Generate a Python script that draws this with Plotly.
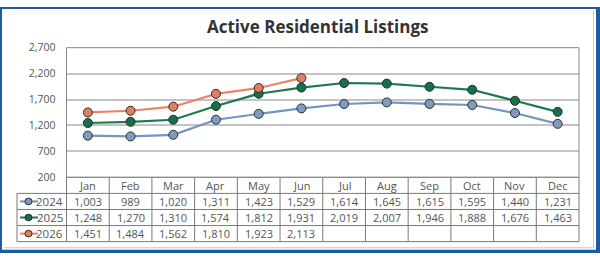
import plotly.graph_objects as go

months = ["Jan", "Feb", "Mar", "Apr", "May", "Jun", "Jul", "Aug", "Sep", "Oct", "Nov", "Dec"]
years = ["2024", "2025", "2026"]
s2024 = [1003, 989, 1020, 1311, 1423, 1529, 1614, 1645, 1615, 1595, 1440, 1231]
s2025 = [1248, 1270, 1310, 1574, 1812, 1931, 2019, 2007, 1946, 1888, 1676, 1463]
s2026 = [1451, 1484, 1562, 1810, 1923, 2113]
series = [s2024, s2025, s2026]
y_ticks = [200, 700, 1200, 1700, 2200, 2700]
title = "Active Residential Listings"

line_colors = ["#7395c2", "#1d7a4d", "#ea8469"]
marker_fills = ["#7f9cc0", "#16704a", "#e27d60"]

W, H = 600, 260
PX0, PX1 = 66.5, 579.0   # plot area left/right (px)
PY0, PY1 = 43.0, 180.0   # plot area top/bottom (px)
ROW_H = 17.0
LEG_X0 = 17.0


def px(x):
    return x / W


def py(y):
    return 1 - y / H


fig = go.Figure()
for name, vals, lc, mf in zip(years, series, line_colors, marker_fills):
    fig.add_trace(go.Scatter(
        x=months[:len(vals)], y=vals, name=name, mode="lines+markers",
        line=dict(color=lc, width=2.2),
        marker=dict(size=9, color=mf, line=dict(color="#2e2e2e", width=1)),
        cliponaxis=False, showlegend=False,
    ))

shapes = []
annotations = []
grid_col = "#7a7a7a"

# table horizontal lines
n_rows = len(years)
header_bot = PY1 + ROW_H
for i in range(n_rows + 2):
    y = PY1 + i * ROW_H
    x0 = PX0 if i == 0 else LEG_X0
    shapes.append(dict(type="line", xref="paper", yref="paper",
                       x0=px(x0), x1=px(PX1), y0=py(y), y1=py(y),
                       line=dict(color=grid_col, width=1)))
# vertical lines
col_w = (PX1 - PX0) / len(months)
for j in range(len(months) + 1):
    x = PX0 + j * col_w
    shapes.append(dict(type="line", xref="paper", yref="paper",
                       x0=px(x), x1=px(x), y0=py(PY1), y1=py(PY1 + (n_rows + 1) * ROW_H),
                       line=dict(color=grid_col, width=1)))
shapes.append(dict(type="line", xref="paper", yref="paper",
                   x0=px(LEG_X0), x1=px(LEG_X0), y0=py(header_bot), y1=py(PY1 + (n_rows + 1) * ROW_H),
                   line=dict(color=grid_col, width=1)))
# plot border
shapes.append(dict(type="rect", xref="paper", yref="paper",
                   x0=px(PX0), x1=px(PX1), y0=py(PY1), y1=py(PY0),
                   line=dict(color="#8a8a8a", width=1)))

tfont = dict(family="Open Sans", size=11, color="#555555")
for m in months:
    annotations.append(dict(x=m, y=py(PY1 + ROW_H / 2), xref="x", yref="paper",
                            text=m, showarrow=False, font=tfont, yanchor="middle"))
for r, (name, vals, lc, mf) in enumerate(zip(years, series, line_colors, marker_fills)):
    yc = PY1 + ROW_H * (r + 1.5)
    for m, v in zip(months, vals):
        annotations.append(dict(x=m, y=py(yc), xref="x", yref="paper",
                                text=f"{v:,}", showarrow=False, font=tfont, yanchor="middle"))
    annotations.append(dict(x=px(PX0 - 2), y=py(yc), xref="paper", yref="paper",
                            text=name, showarrow=False, font=dict(family="Open Sans", size=11.5, color="#555555"),
                            xanchor="right", yanchor="middle"))
    shapes.append(dict(type="line", xref="paper", yref="paper",
                       x0=px(20), x1=px(38), y0=py(yc), y1=py(yc),
                       line=dict(color=lc, width=2)))
    shapes.append(dict(type="circle", xref="paper", yref="paper",
                       x0=px(28.5 - 3.5), x1=px(28.5 + 3.5), y0=py(yc + 3.5), y1=py(yc - 3.5),
                       fillcolor=mf, line=dict(color="#2e2e2e", width=1)))

# outer frame
shapes.append(dict(type="line", xref="paper", yref="paper", x0=px(593.5), x1=px(593.5), y0=py(4), y1=py(254.5),
                   line=dict(color="#c8c8c8", width=1)))
shapes.append(dict(type="line", xref="paper", yref="paper", x0=px(4), x1=px(593.5), y0=py(254.5), y1=py(254.5),
                   line=dict(color="#c8c8c8", width=1)))
blue = "#1f5aa5"
shapes.append(dict(type="rect", xref="paper", yref="paper", x0=0, x1=px(2), y0=0, y1=1,
                   fillcolor=blue, line=dict(width=0)))
shapes.append(dict(type="rect", xref="paper", yref="paper", x0=0, x1=1, y0=py(2), y1=1,
                   fillcolor=blue, line=dict(width=0)))
shapes.append(dict(type="rect", xref="paper", yref="paper", x0=px(596), x1=1, y0=0, y1=1,
                   fillcolor=blue, line=dict(width=0)))
shapes.append(dict(type="rect", xref="paper", yref="paper", x0=0, x1=1, y0=0, y1=py(256.5),
                   fillcolor=blue, line=dict(width=0)))

annotations.append(dict(x=px(318), y=py(21), xref="paper", yref="paper", text=f"<b>{title}</b>",
                        showarrow=False, font=dict(family="Open Sans", size=17, color="#333333"),
                        xanchor="center", yanchor="middle"))

fig.update_layout(
    width=W, height=H, margin=dict(l=0, r=0, t=0, b=0),
    paper_bgcolor="white", plot_bgcolor="white",
    xaxis=dict(domain=[px(PX0), px(PX1)], type="category", categoryorder="array", categoryarray=months,
               range=[-0.5, len(months) - 0.5], showticklabels=False, showgrid=False, zeroline=False,
               showline=False, fixedrange=True),
    yaxis=dict(domain=[py(PY1), py(PY0)], range=[y_ticks[0], y_ticks[-1]], tickvals=y_ticks,
               tickformat=",", showgrid=True, gridcolor="#c4c4c4", gridwidth=1.5, zeroline=False,
               showline=False, ticks="", ticklabelstandoff=10,
               tickfont=dict(family="Open Sans", size=10.5, color="#555555"), fixedrange=True),
    shapes=shapes, annotations=annotations, showlegend=False,
)

fig.write_html("out.html")
